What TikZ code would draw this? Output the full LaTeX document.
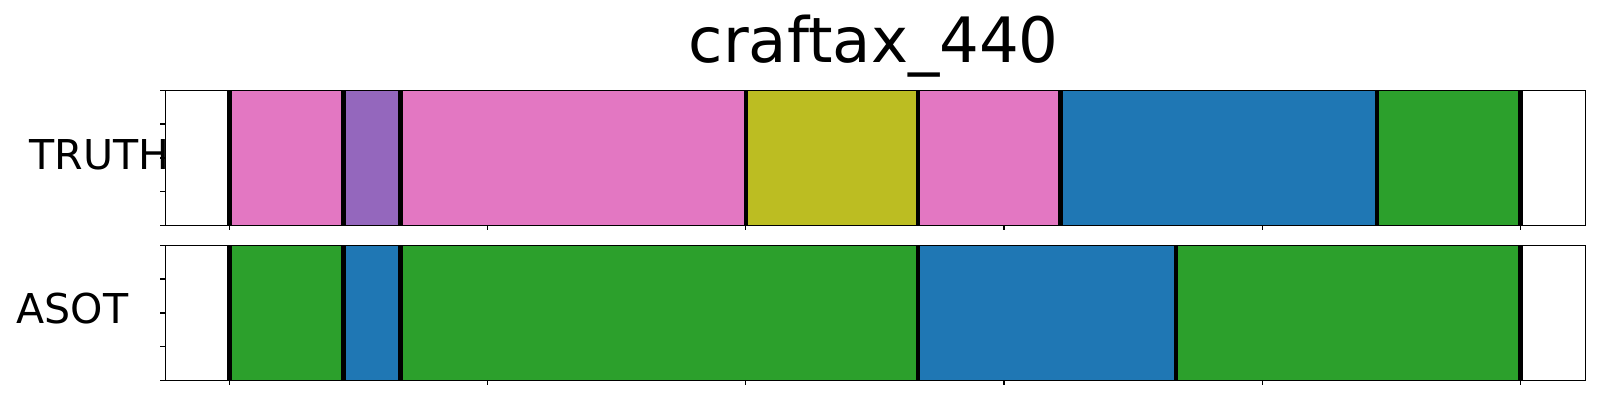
\documentclass[tikz,border=0pt]{standalone}
\usepackage{fontspec}
\setmainfont{DejaVu Sans}
\usepackage{tikz}

\definecolor{segpink}{HTML}{E377C2}
\definecolor{segpurple}{HTML}{9467BD}
\definecolor{segolive}{HTML}{BCBD22}
\definecolor{segblue}{HTML}{1F77B4}
\definecolor{seggreen}{HTML}{2CA02C}

\tikzset{
  frame/.style={line width=0.4pt},
  cut/.style={line width=1.3pt},
  tick/.style={line width=0.4pt},
  rowlabel/.style={anchor=base west, inner sep=0pt, font=\fontsize{11.7}{12}\selectfont}
}

\begin{document}
\begin{tikzpicture}
	\useasboundingbox (0,0) rectangle (16,4);
	\node[anchor=base west, inner sep=0pt, font=\fontsize{17.8}{18}\selectfont] (title) at (6.88,3.373) {craftax\_440};
	% truth row
	\fill[segpink] (2.293,1.747) rectangle (3.437,3.097);
	\fill[segpurple] (3.437,1.747) rectangle (4.007,3.097);
	\fill[segpink] (4.007,1.747) rectangle (7.46,3.097);
	\fill[segolive] (7.46,1.747) rectangle (9.18,3.097);
	\fill[segpink] (9.18,1.747) rectangle (10.607,3.097);
	\fill[segblue] (10.607,1.747) rectangle (13.77,3.097);
	\fill[seggreen] (13.77,1.747) rectangle (15.205,3.097);
	\draw[frame] (1.653,1.747) rectangle (15.857,3.097);
	\foreach \x in {2.293,3.437,4.007,7.46,9.18,10.607,13.77,15.205}
		\draw[cut] (\x,1.747) -- (\x,3.097);
	\node[rowlabel] (truth) at (0.29,2.307) {TRUTH};
	% asot row
	\fill[seggreen] (2.293,0.197) rectangle (3.437,1.547);
	\fill[segblue] (3.437,0.197) rectangle (4.007,1.547);
	\fill[seggreen] (4.007,0.197) rectangle (9.18,1.547);
	\fill[segblue] (9.18,0.197) rectangle (11.76,1.547);
	\fill[seggreen] (11.76,0.197) rectangle (15.205,1.547);
	\draw[frame] (1.653,0.197) rectangle (15.857,1.547);
	\foreach \x in {2.293,3.437,4.007,9.18,11.76,15.205}
		\draw[cut] (\x,0.197) -- (\x,1.547);
	\node[rowlabel] (asot) at (0.16,0.767) {ASOT};
	% ticks
	\foreach \y in {0,0.25,0.5,0.75,1} {
		\draw[tick] (1.603,1.747+1.35*\y) -- (1.653,1.747+1.35*\y);
		\draw[tick] (1.603,0.197+1.35*\y) -- (1.653,0.197+1.35*\y);
	}
	\foreach \x in {2.293,4.875,7.457,10.04,12.623,15.205} {
		\draw[tick] (\x,1.747) -- (\x,1.697);
		\draw[tick] (\x,0.197) -- (\x,0.147);
	}
\end{tikzpicture}
\end{document}
